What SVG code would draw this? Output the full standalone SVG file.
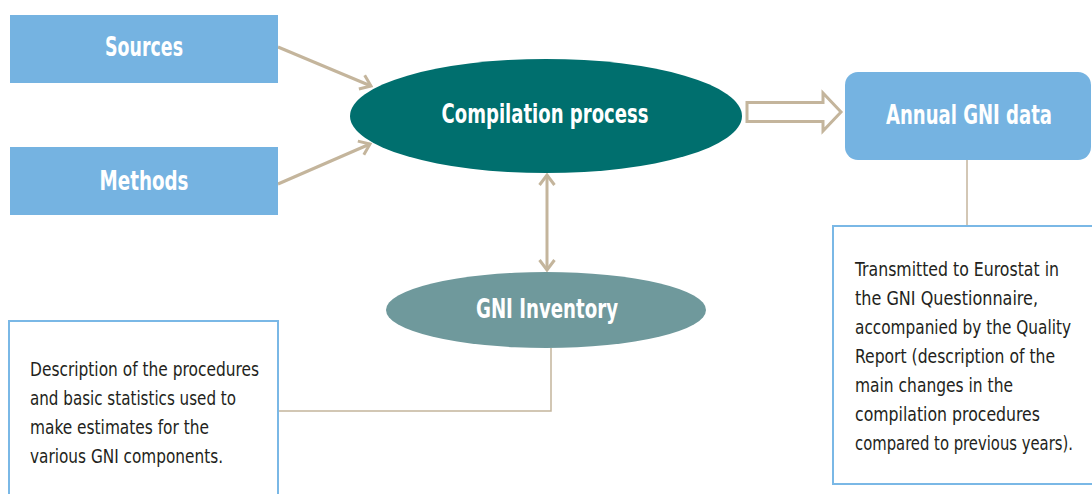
<svg xmlns="http://www.w3.org/2000/svg" width="1092" height="494" viewBox="0 0 1092 494">
<style>
.title{font-family:"Liberation Sans Narrow","DejaVu Sans Condensed","Liberation Sans",sans-serif;font-weight:bold;font-size:26px;fill:#ffffff;text-anchor:middle}
.body{font-family:"Liberation Sans Narrow","DejaVu Sans Condensed","Liberation Sans",sans-serif;font-size:20px;fill:#231f20}
.conn{fill:none;stroke:#c4b59c;stroke-width:3}
.thin{fill:none;stroke:#c4b59c;stroke-width:1.5}
.box{fill:#ffffff;stroke:#7ab8e6;stroke-width:2}
</style>
<defs>
<marker id="chev" viewBox="-14 -9 16 18" markerWidth="16" markerHeight="18" refX="0" refY="0" orient="auto-start-reverse" markerUnits="userSpaceOnUse">
<path d="M-10,-7.5 L0,0 L-10,7.5" fill="none" stroke="#c4b59c" stroke-width="3"/>
</marker>
</defs>
<rect width="1092" height="494" fill="#ffffff"/>
<g id="connectors">
<line class="conn" x1="278" y1="47" x2="371" y2="86" marker-end="url(#chev)"/>
<line class="conn" x1="278" y1="184" x2="370" y2="144" marker-end="url(#chev)"/>
<line class="conn" x1="547" y1="175" x2="547" y2="270" marker-start="url(#chev)" marker-end="url(#chev)"/>
<polygon points="747,102.5 823,102.5 823,93 841,112 823,131 823,121.5 747,121.5" fill="#ffffff" stroke="#c4b59c" stroke-width="3"/>
<path class="thin" d="M967,160 V226"/>
<path class="thin" d="M551,348 V411 H278"/>
</g>
<g id="sources">
<rect x="10" y="15" width="268" height="68" fill="#75b3e1"/>
<text class="title" x="144" y="56" textLength="78" lengthAdjust="spacingAndGlyphs">Sources</text>
</g>
<g id="methods">
<rect x="10" y="147" width="268" height="68" fill="#75b3e1"/>
<text class="title" x="144" y="190" textLength="89" lengthAdjust="spacingAndGlyphs">Methods</text>
</g>
<g id="compilation">
<ellipse cx="546" cy="116" rx="196" ry="57" fill="#006f6e"/>
<text class="title" x="545" y="123" textLength="207" lengthAdjust="spacingAndGlyphs">Compilation process</text>
</g>
<g id="inventory">
<ellipse cx="546" cy="310" rx="160" ry="38" fill="#6f999c"/>
<text class="title" x="547" y="318" textLength="142" lengthAdjust="spacingAndGlyphs">GNI Inventory</text>
</g>
<g id="annual">
<rect x="845" y="72" width="246" height="88" rx="13" ry="13" fill="#75b3e1"/>
<text class="title" x="969" y="124" textLength="166" lengthAdjust="spacingAndGlyphs">Annual GNI data</text>
</g>
<g id="inventory-note">
<rect class="box" x="9" y="321" width="269" height="200"/>
<text class="body" x="30" y="376" textLength="229" lengthAdjust="spacingAndGlyphs">Description of the procedures</text>
<text class="body" x="30" y="405" textLength="206" lengthAdjust="spacingAndGlyphs">and basic statistics used to</text>
<text class="body" x="30" y="434" textLength="179" lengthAdjust="spacingAndGlyphs">make estimates for the</text>
<text class="body" x="30" y="463" textLength="193" lengthAdjust="spacingAndGlyphs">various GNI components.</text>
</g>
<g id="annual-note">
<rect class="box" x="833" y="226" width="261" height="258"/>
<text class="body" x="855" y="276" textLength="204" lengthAdjust="spacingAndGlyphs">Transmitted to Eurostat in</text>
<text class="body" x="855" y="305" textLength="183" lengthAdjust="spacingAndGlyphs">the GNI Questionnaire,</text>
<text class="body" x="855" y="334" textLength="216" lengthAdjust="spacingAndGlyphs">accompanied by the Quality</text>
<text class="body" x="855" y="363" textLength="200" lengthAdjust="spacingAndGlyphs">Report (description of the</text>
<text class="body" x="855" y="392" textLength="158" lengthAdjust="spacingAndGlyphs">main changes in the</text>
<text class="body" x="855" y="421" textLength="185" lengthAdjust="spacingAndGlyphs">compilation procedures</text>
<text class="body" x="855" y="450" textLength="218" lengthAdjust="spacingAndGlyphs">compared to previous years).</text>
</g>
</svg>
